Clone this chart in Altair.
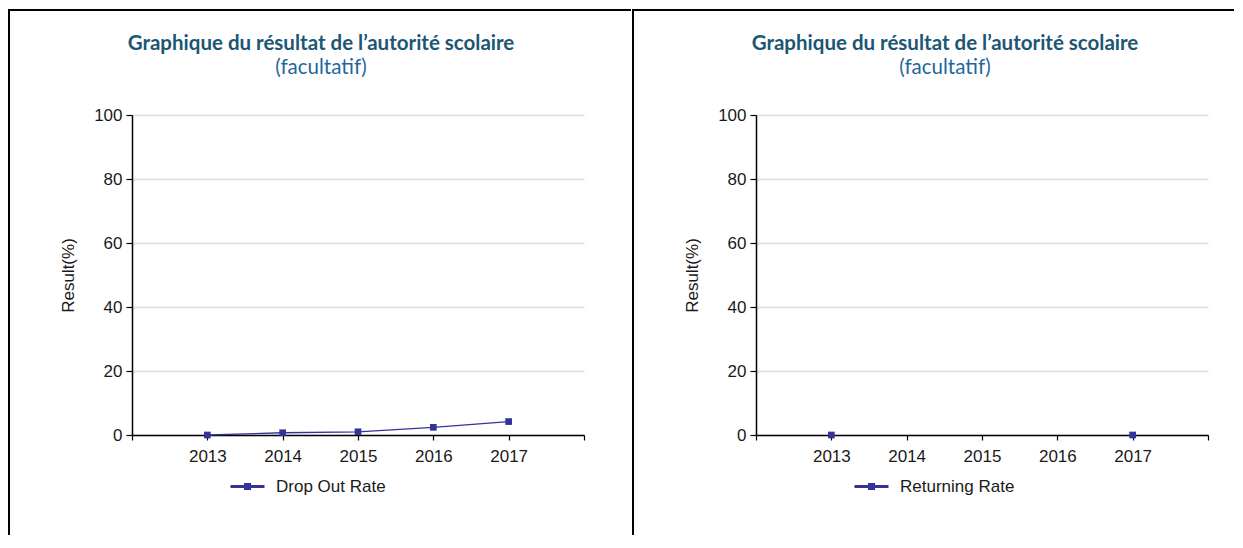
import altair as alt
import pandas as pd

# ---- data ----
years = [2013, 2014, 2015, 2016, 2017]
drop_out_rate = [0.0, 0.7, 1.0, 2.4, 4.2]
returning_rate = [0.0, None, None, None, 0.0]
series_names = ["Drop Out Rate", "Returning Rate"]
x_tick_values = [2012, 2013, 2014, 2015, 2016, 2017, 2018]
y_tick_values = [0, 20, 40, 60, 80, 100]
title_main = "Graphique du r\u00e9sultat de l\u2019autorit\u00e9 scolaire"
title_sub = "(facultatif)"
y_title = "Result(%)"

SERIES = "#333399"
TITLE_COLOR = "#1b5674"
SUB_COLOR = "#1f66a0"
FONT = "Liberation Sans"

LEGEND_PATH = "M-1,0H1M-0.12,-0.12H0.12V0.12H-0.12Z"


def panel(name, values, top_x2):
    df = pd.DataFrame({"year": years, "value": values, "series": [name] * len(years)})
    x = alt.X(
        "year:Q",
        scale=alt.Scale(domain=[2012, 2018], nice=False, zero=False),
        axis=alt.Axis(
            values=x_tick_values,
            labelExpr="datum.value >= 2013 && datum.value <= 2017 ? format(datum.value, 'd') : ''",
            title=None,
            grid=False,
            tickSize=5,
            labelPadding=8,
        ),
    )
    y = alt.Y(
        "value:Q",
        scale=alt.Scale(domain=[0, 100], nice=False),
        axis=alt.Axis(
            values=y_tick_values,
            title=y_title,
            titleX=-64,
            titleY=160,
            titleAngle=270,
            titleBaseline="middle",
            titleAlign="center",
            grid=True,
            tickSize=6,
            labelPadding=4,
        ),
    )
    line = alt.Chart(df).mark_line(
        strokeWidth=1.3, invalid="break-paths-filter-domains"
    ).encode(
        x=x,
        y=y,
        color=alt.Color(
            "series:N",
            scale=alt.Scale(range=[SERIES]),
            legend=alt.Legend(
                title=None,
                orient="none",
                legendX=97,
                legendY=353,
                direction="horizontal",
                padding=0,
                symbolType=LEGEND_PATH,
                symbolSize=1156,
                symbolStrokeWidth=3,
                symbolStrokeColor=SERIES,
                symbolFillColor=SERIES,
                labelFont=FONT,
                labelFontSize=17,
                labelColor="#1a1a1a",
                labelOffset=10,
            ),
        ),
    )
    pts = alt.Chart(df).mark_point(
        shape="square", filled=True, size=45, color=SERIES, opacity=1
    ).encode(x="year:Q", y="value:Q")

    one = pd.DataFrame({"t": [0]})
    top = alt.Chart(one).mark_rule(color="black", strokeWidth=2).encode(
        x=alt.value(-123), x2=alt.value(top_x2), y=alt.value(-105)
    )
    left = alt.Chart(one).mark_rule(color="black", strokeWidth=2).encode(
        x=alt.value(-123), y=alt.value(-106), y2=alt.value(420)
    )
    t1 = alt.Chart(pd.DataFrame({"t": [title_main]})).mark_text(
        font="Lato", fontWeight="bold", fontSize=20.5, color=TITLE_COLOR,
        align="center", baseline="middle",
    ).encode(text="t:N", x=alt.value(189), y=alt.value(-71))
    t2 = alt.Chart(pd.DataFrame({"t": [title_sub]})).mark_text(
        font="Lato", fontSize=20.5, color=SUB_COLOR,
        align="center", baseline="middle",
    ).encode(text="t:N", x=alt.value(189), y=alt.value(-47))

    return alt.layer(top, left, t1, t2, line, pts).properties(width=452, height=320)


left_panel = panel(series_names[0], drop_out_rate, 499)
right_panel = panel(series_names[1], returning_rate, 478)

chart = (
    alt.hconcat(left_panel, right_panel, spacing=0)
    .resolve_scale(color="independent")
    .resolve_legend(color="independent")
    .properties(padding=0, background="white")
    .configure_view(stroke=None)
    .configure_axis(
        labelFont=FONT,
        labelFontSize=17,
        labelColor="#1a1a1a",
        titleFont=FONT,
        titleFontSize=17,
        titleFontWeight="normal",
        titleColor="#1a1a1a",
        domainColor="black",
        domainWidth=1.5,
        tickColor="black",
        tickWidth=1.2,
        gridColor="#dcdcdc",
        gridWidth=1.5,
    )
)

chart.save("out.html", embed_options={"renderer": "svg", "actions": False})
